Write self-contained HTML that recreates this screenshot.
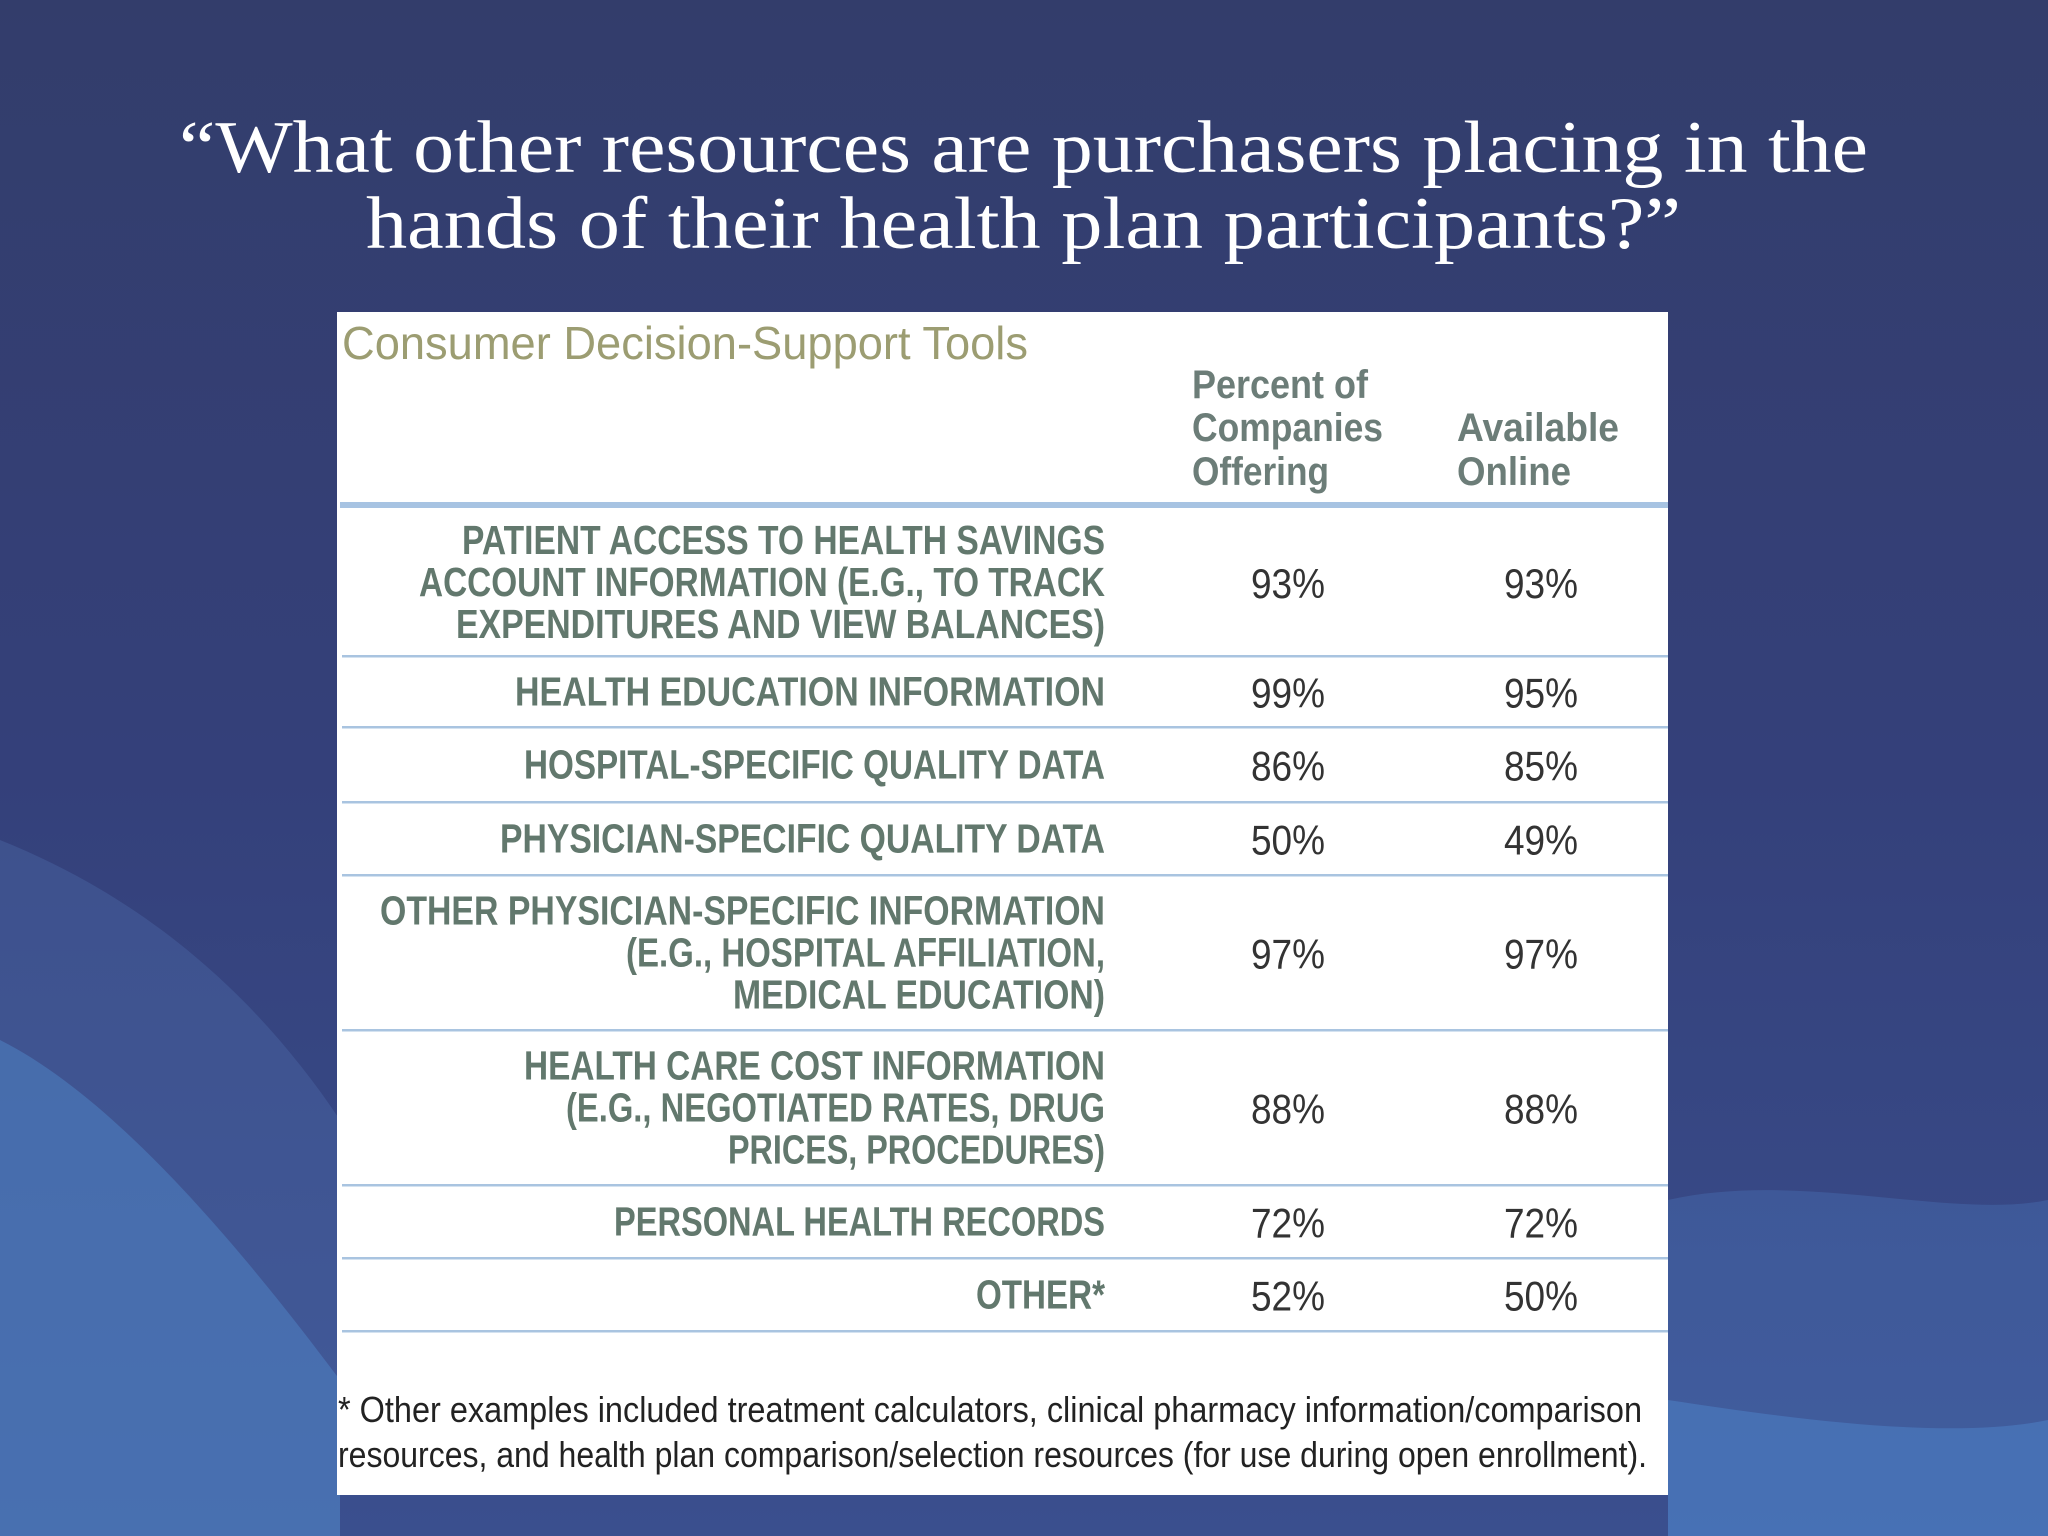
<!DOCTYPE html>
<html><head><meta charset="utf-8"><style>html,body{margin:0;padding:0;width:2048px;height:1536px;overflow:hidden;background:#323d6e}</style></head>
<body>
<svg id="s" width="2048" height="1536" viewBox="0 0 2048 1536" xmlns="http://www.w3.org/2000/svg">
<defs>
<linearGradient id="bg" x1="0" y1="0" x2="0" y2="1"><stop offset="0" stop-color="#333d6b"/><stop offset="0.5" stop-color="#34407a"/><stop offset="1" stop-color="#3a4f8e"/></linearGradient>
</defs>
<rect width="2048" height="1536" fill="url(#bg)"/>
<path d="M0 840 C150 900 260 1000 340 1120 L340 1536 L0 1536 Z" fill="#5071b0" opacity="0.35"/>
<path d="M0 1040 C120 1100 250 1260 340 1380 L340 1536 L0 1536 Z" fill="#4f86c8" opacity="0.5"/>
<path d="M1668 1200 C1800 1170 1950 1220 2048 1200 L2048 1536 L1668 1536 Z" fill="#4e78bd" opacity="0.35"/>
<path d="M1668 1400 C1800 1420 1950 1440 2048 1420 L2048 1536 L1668 1536 Z" fill="#4f8ad0" opacity="0.45"/>
<g font-family="'Liberation Serif', serif" fill="#ffffff" font-size="74" text-anchor="start">
<text x="179" y="172" textLength="1689" lengthAdjust="spacingAndGlyphs">“What other resources are purchasers placing in the</text>
<text x="366" y="248" textLength="1315" lengthAdjust="spacingAndGlyphs">hands of their health plan participants?”</text>
</g>
<rect x="337" y="312" width="1331" height="1183" fill="#ffffff"/>
<text x="342" y="359" font-family="'Liberation Sans Narrow','Liberation Sans',sans-serif" font-size="46" fill="#9c9d72" textLength="686" lengthAdjust="spacingAndGlyphs">Consumer Decision-Support Tools</text>
<g font-family="'Liberation Sans Narrow','Liberation Sans',sans-serif" font-weight="bold" font-size="40" fill="#6c7d78">
<text x="1192" y="398" textLength="176" lengthAdjust="spacingAndGlyphs">Percent of</text>
<text x="1192" y="441" textLength="191" lengthAdjust="spacingAndGlyphs">Companies</text>
<text x="1192" y="485" textLength="137" lengthAdjust="spacingAndGlyphs">Offering</text>
<text x="1457" y="441" textLength="162" lengthAdjust="spacingAndGlyphs">Available</text>
<text x="1457" y="485" textLength="114" lengthAdjust="spacingAndGlyphs">Online</text>
</g>
<rect x="340" y="502" width="1328" height="6" fill="#a7c3e2"/>
<g id="rows"></g>
<g font-family="'Liberation Sans Narrow','Liberation Sans',sans-serif" font-size="36" fill="#222">
<text x="338" y="1422" textLength="1304" lengthAdjust="spacingAndGlyphs">* Other examples included treatment calculators, clinical pharmacy information/comparison</text>
<text x="338" y="1467" textLength="1309" lengthAdjust="spacingAndGlyphs">resources, and health plan comparison/selection resources (for use during open enrollment).</text>
</g>
</svg>
<script>
const categories = [
 ["PATIENT ACCESS TO HEALTH SAVINGS","ACCOUNT INFORMATION (E.G., TO TRACK","EXPENDITURES AND VIEW BALANCES)"],
 ["HEALTH EDUCATION INFORMATION"],
 ["HOSPITAL-SPECIFIC QUALITY DATA"],
 ["PHYSICIAN-SPECIFIC QUALITY DATA"],
 ["OTHER PHYSICIAN-SPECIFIC INFORMATION","(E.G., HOSPITAL AFFILIATION,","MEDICAL EDUCATION)"],
 ["HEALTH CARE COST INFORMATION","(E.G., NEGOTIATED RATES, DRUG","PRICES, PROCEDURES)"],
 ["PERSONAL HEALTH RECORDS"],
 ["OTHER*"]
];
const percentOffering = [93, 99, 86, 50, 97, 88, 72, 52];
const availableOnline = [93, 95, 85, 49, 97, 88, 72, 50];
const labelWidths = [[643,686,649],[590],[581],[605],[725,479,372],[581,539,377],[491],[129]];
const rowBottoms = [656, 727, 802, 875, 1030, 1185, 1258, 1331];
const NS = "http://www.w3.org/2000/svg";
const rowsG = document.getElementById("rows");
let rowTop = 508;
const lh = 42;
categories.forEach((lines, i) => {
  const bottom = rowBottoms[i];
  const mid = (rowTop + bottom) / 2;
  const n = lines.length;
  lines.forEach((ln, j) => {
    const t = document.createElementNS(NS, "text");
    
    
    t.setAttribute("x", 1105);
    t.setAttribute("y", mid + (j - (n - 1) / 2) * lh + 14);
    t.setAttribute("text-anchor", "end");
    t.setAttribute("font-family", "'Liberation Sans Narrow','Liberation Sans',sans-serif");
    t.setAttribute("font-weight", "bold");
    t.setAttribute("font-size", "41");
    t.setAttribute("fill", "#62786d");
    t.setAttribute("textLength", labelWidths[i][j]);
    t.setAttribute("lengthAdjust", "spacingAndGlyphs");
    t.textContent = ln;
    rowsG.appendChild(t);
  });
  [[percentOffering, 1288, 'value-percent-offering'], [availableOnline, 1541, 'value-available-online']].forEach(([arr, x, nm]) => {
    const v = document.createElementNS(NS, "text");
    
    
    v.setAttribute("x", x);
    v.setAttribute("y", mid + 16);
    v.setAttribute("text-anchor", "middle");
    v.setAttribute("font-family", "'Liberation Sans Narrow','Liberation Sans',sans-serif");
    v.setAttribute("font-size", "42");
    v.setAttribute("fill", "#333");
    v.setAttribute("textLength", 74);
    v.setAttribute("lengthAdjust", "spacingAndGlyphs");
    v.textContent = arr[i] + "%";
    rowsG.appendChild(v);
  });
  const r = document.createElementNS(NS, "rect");
  
  
  r.setAttribute("x", 342); r.setAttribute("y", bottom - 1);
  r.setAttribute("width", 1326); r.setAttribute("height", 2.5);
  r.setAttribute("fill", "#a9c4e0");
  rowsG.appendChild(r);
  rowTop = bottom;
});
</script>
</body></html>
